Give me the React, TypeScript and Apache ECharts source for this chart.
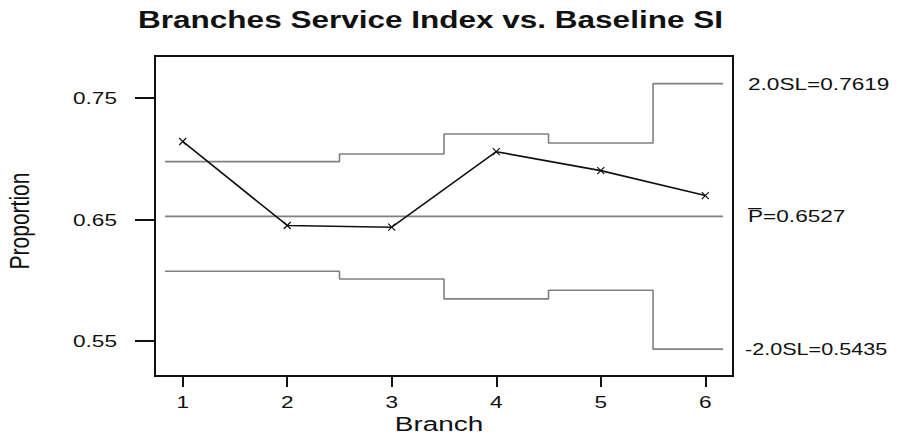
import React, { useEffect, useRef } from "react";
import * as echarts from "echarts";

// ---- data ----
const titleText = "Branches Service Index vs. Baseline SI";
const xAxisName = "Branch";
const yAxisName = "Proportion";
const branches = [1, 2, 3, 4, 5, 6];
const proportions = [0.7143, 0.6452, 0.6438, 0.7059, 0.6903, 0.6698];
const upperLimits = [0.6977, 0.6977, 0.704, 0.7204, 0.713, 0.7619];
const lowerLimits = [0.6075, 0.6075, 0.6012, 0.5848, 0.5919, 0.5435];
const centerValue = 0.6527;
const xTicks = [1, 2, 3, 4, 5, 6];
const yTicks = [0.55, 0.65, 0.75];
const limitLabels = ["2.0SL=0.7619", "P\u0305=0.6527", "-2.0SL=0.5435"];
const limitLabelValues = [0.7619, 0.6527, 0.5435];

// ---- layout / scale settings ----
const X_MIN = 0.735;
const X_MAX = 6.265;
const Y_MIN = 0.5214;
const Y_MAX = 0.7846;
const LIMIT_START = 0.83;
const LIMIT_END = 6.17;
const STRETCH = 1.33;
const FONT = "'Liberation Sans', Arial, sans-serif";
const INK = "#111";
const LIMIT_COLOR = "#808080";

function stepData(vals: number[]) {
  const out: number[][] = [];
  vals.forEach((v, i) => {
    const b = branches[i];
    const l = i === 0 ? LIMIT_START : b - 0.5;
    const r = i === vals.length - 1 ? LIMIT_END : b + 0.5;
    out.push([l, v], [r, v]);
  });
  return out;
}

export default function App() {
  const ref = useRef<HTMLDivElement>(null);
  useEffect(() => {
    if (!ref.current) return;
    const chart = echarts.init(ref.current, null, { renderer: "svg" });
    const axisStyle = { color: INK, width: 2 };
    chart.setOption({
      animation: false,
      backgroundColor: "#fff",
      grid: {
        left: 155,
        right: 166,
        top: 56,
        bottom: 62,
        show: true,
        borderColor: INK,
        borderWidth: 2,
        backgroundColor: "#fff",
      },
      xAxis: {
        type: "value",
        min: X_MIN,
        max: X_MAX,
        axisLine: { show: true, lineStyle: axisStyle },
        axisTick: { show: true, customValues: xTicks, length: 11, lineStyle: axisStyle },
        axisLabel: { show: false },
        splitLine: { show: false },
      },
      yAxis: {
        type: "value",
        min: Y_MIN,
        max: Y_MAX,
        axisLine: { show: true, lineStyle: axisStyle },
        axisTick: { show: true, customValues: yTicks, length: 20, lineStyle: axisStyle },
        axisLabel: { show: false },
        splitLine: { show: false },
      },
      series: [
        {
          type: "line",
          name: "UCL",
          data: stepData(upperLimits),
          symbol: "none",
          lineStyle: { color: LIMIT_COLOR, width: 1.6 },
          itemStyle: { color: LIMIT_COLOR },
        },
        {
          type: "line",
          name: "LCL",
          data: stepData(lowerLimits),
          symbol: "none",
          lineStyle: { color: LIMIT_COLOR, width: 1.6 },
          itemStyle: { color: LIMIT_COLOR },
        },
        {
          type: "line",
          name: "Center",
          data: [
            [LIMIT_START, centerValue],
            [LIMIT_END, centerValue],
          ],
          symbol: "none",
          lineStyle: { color: LIMIT_COLOR, width: 1.6 },
          itemStyle: { color: LIMIT_COLOR },
        },
        {
          type: "line",
          name: "Proportion",
          data: branches.map((b, i) => [b, proportions[i]]),
          symbol: "path://M0,0L10,10M0,10L10,0",
          symbolSize: 7,
          showAllSymbol: true,
          lineStyle: { color: INK, width: 1.6 },
          itemStyle: { color: INK, borderColor: INK, borderWidth: 1.2 },
        },
      ],
    });

    const px = (x: number, y: number) =>
      chart.convertToPixel({ gridIndex: 0 }, [x, y]) as number[];

    const gridLeft = px(X_MIN, Y_MIN)[0];
    const gridRight = px(X_MAX, Y_MIN)[0];
    const gridBottom = px(X_MIN, Y_MIN)[1];

    const graphics: any[] = [];
    graphics.push({
      type: "text",
      x: 430.5,
      y: 20,
      scaleX: 1.37,
      style: {
        text: titleText,
        font: `bold 23px ${FONT}`,
        fill: INK,
        align: "center",
        verticalAlign: "middle",
      },
    });
    yTicks.forEach((t) => {
      const p = px(X_MIN, t);
      graphics.push({
        type: "text",
        x: gridLeft - 38,
        y: p[1],
        scaleX: STRETCH,
        style: {
          text: t.toFixed(2),
          font: `17px ${FONT}`,
          fill: INK,
          align: "right",
          verticalAlign: "middle",
        },
      });
    });
    xTicks.forEach((t) => {
      const p = px(t, Y_MIN);
      graphics.push({
        type: "text",
        x: p[0],
        y: gridBottom + 26.5,
        scaleX: STRETCH,
        style: {
          text: String(t),
          font: `17px ${FONT}`,
          fill: INK,
          align: "center",
          verticalAlign: "middle",
        },
      });
    });
    graphics.push({
      type: "text",
      x: (gridLeft + gridRight) / 2 - 5,
      y: gridBottom + 47.3,
      scaleX: STRETCH,
      style: {
        text: xAxisName,
        font: `21px ${FONT}`,
        fill: INK,
        align: "center",
        verticalAlign: "middle",
      },
    });
    graphics.push({
      type: "text",
      x: 19.5,
      y: 221,
      rotation: Math.PI / 2,
      scaleY: STRETCH,
      style: {
        text: yAxisName,
        font: `21px ${FONT}`,
        fill: INK,
        align: "center",
        verticalAlign: "middle",
      },
    });
    limitLabels.forEach((txt, i) => {
      const p = px(X_MAX, limitLabelValues[i]);
      const neg = txt.startsWith("-");
      graphics.push({
        type: "text",
        x: gridRight + (neg ? 12 : 15),
        y: p[1],
        scaleX: neg ? 1.27 : STRETCH,
        style: {
          text: txt,
          font: `17px ${FONT}`,
          fill: INK,
          align: "left",
          verticalAlign: "middle",
        },
      });
    });
    chart.setOption({ graphic: graphics });

    return () => chart.dispose();
  }, []);
  return (
    <div
      ref={ref}
      style={{ position: "fixed", left: 0, top: 0, width: 899, height: 438, background: "#fff" }}
    />
  );
}
